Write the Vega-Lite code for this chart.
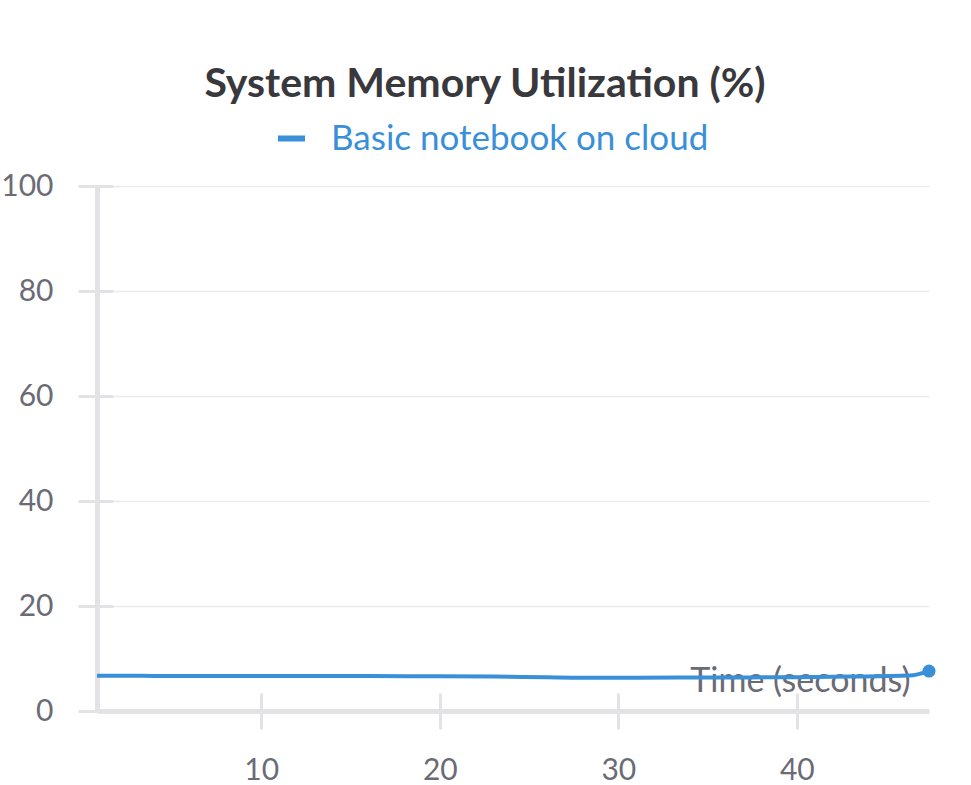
{
  "$schema": "https://vega.github.io/schema/vega-lite/v6.json",
  "width": 832,
  "height": 525,
  "autosize": {"type": "none"},
  "padding": {"left": 97, "top": 186, "right": 42, "bottom": 74},
  "background": "white",
  "title": {
    "text": "System Memory Utilization (%)",
    "font": "Lato",
    "fontSize": 41,
    "fontWeight": "bold",
    "color": "#38383d",
    "anchor": "middle",
    "frame": "group",
    "dx": -28,
    "offset": 15
  },
  "data": {
    "values": [
      {"t": 0.8, "mem": 6.7, "run": "Basic notebook on cloud"},
      {"t": 3, "mem": 6.7, "run": "Basic notebook on cloud"},
      {"t": 5, "mem": 6.66, "run": "Basic notebook on cloud"},
      {"t": 7, "mem": 6.66, "run": "Basic notebook on cloud"},
      {"t": 10, "mem": 6.65, "run": "Basic notebook on cloud"},
      {"t": 13, "mem": 6.65, "run": "Basic notebook on cloud"},
      {"t": 16, "mem": 6.65, "run": "Basic notebook on cloud"},
      {"t": 20, "mem": 6.62, "run": "Basic notebook on cloud"},
      {"t": 23, "mem": 6.55, "run": "Basic notebook on cloud"},
      {"t": 26, "mem": 6.42, "run": "Basic notebook on cloud"},
      {"t": 28, "mem": 6.35, "run": "Basic notebook on cloud"},
      {"t": 31, "mem": 6.35, "run": "Basic notebook on cloud"},
      {"t": 34, "mem": 6.37, "run": "Basic notebook on cloud"},
      {"t": 37, "mem": 6.4, "run": "Basic notebook on cloud"},
      {"t": 40, "mem": 6.45, "run": "Basic notebook on cloud"},
      {"t": 43, "mem": 6.55, "run": "Basic notebook on cloud"},
      {"t": 46.3, "mem": 6.75, "run": "Basic notebook on cloud"},
      {"t": 47.4, "mem": 7.6, "run": "Basic notebook on cloud"}
    ]
  },
  "layer": [
    {
      "mark": {"type": "line", "strokeWidth": 4, "interpolate": "monotone"},
      "encoding": {
        "x": {
          "field": "t", "type": "quantitative",
          "scale": {"domain": [0.8, 47.4], "nice": false, "zero": false},
          "axis": {
            "orient": "bottom",
            "values": [10, 20, 30, 40],
            "ticks": false,
            "grid": false,
            "domainColor": "#e3e3e6",
            "domainWidth": 5,
            "labelFont": "Lato",
            "labelFontSize": 30,
            "labelColor": "#6b6b76",
            "labelPadding": 44,
            "title": "Time (seconds)",
            "titleFont": "Lato",
            "titleFontSize": 34,
            "titleFontWeight": "normal",
            "titleColor": "#6b6b76",
            "titleAlign": "right",
            "titleBaseline": "alphabetic",
            "titleX": 813,
            "titleY": -20
          }
        },
        "y": {
          "field": "mem", "type": "quantitative",
          "scale": {"domain": [0, 100], "nice": false},
          "axis": {
            "orient": "left",
            "values": [0, 20, 40, 60, 80, 100],
            "ticks": false,
            "grid": true,
            "gridColor": "#ebebeb",
            "gridWidth": 1.5,
            "domainColor": "#e3e3e6",
            "domainWidth": 5,
            "labelFont": "Lato",
            "labelFontSize": 30,
            "labelColor": "#6b6b76",
            "labelPadding": 44,
            "title": null
          }
        },
        "color": {
          "field": "run", "type": "nominal",
          "scale": {"range": ["#3a8fd9"]},
          "legend": {
            "orient": "none",
            "legendX": 177,
            "legendY": -65,
            "title": null,
            "symbolType": "stroke",
            "symbolStrokeWidth": 6,
            "symbolSize": 730,
            "labelFont": "Lato",
            "labelFontSize": 35,
            "labelColor": "#3a8fd9",
            "labelOffset": 22,
            "labelLimit": 600
          }
        }
      }
    },
    {
      "transform": [
        {"joinaggregate": [{"op": "max", "field": "t", "as": "tmax"}]},
        {"filter": "datum.t === datum.tmax"}
      ],
      "mark": {"type": "point", "filled": true, "size": 170, "opacity": 1},
      "encoding": {
        "x": {
          "field": "t", "type": "quantitative",
          "axis": {
            "orient": "bottom",
            "values": [10, 20, 30, 40],
            "domain": false,
            "labels": false,
            "grid": false,
            "ticks": true,
            "tickColor": "#e3e3e6",
            "tickWidth": 3,
            "tickSize": 36,
            "offset": -18,
            "title": null
          }
        },
        "y": {
          "field": "mem", "type": "quantitative",
          "axis": {
            "orient": "left",
            "values": [0, 20, 40, 60, 80, 100],
            "domain": false,
            "labels": false,
            "grid": false,
            "ticks": true,
            "tickColor": "#e3e3e6",
            "tickWidth": 3,
            "tickSize": 35,
            "offset": -16,
            "title": null
          }
        },
        "color": {"field": "run", "type": "nominal"}
      }
    }
  ],
  "resolve": {"axis": {"x": "independent", "y": "independent"}},
  "config": {"view": {"stroke": null}}
}
